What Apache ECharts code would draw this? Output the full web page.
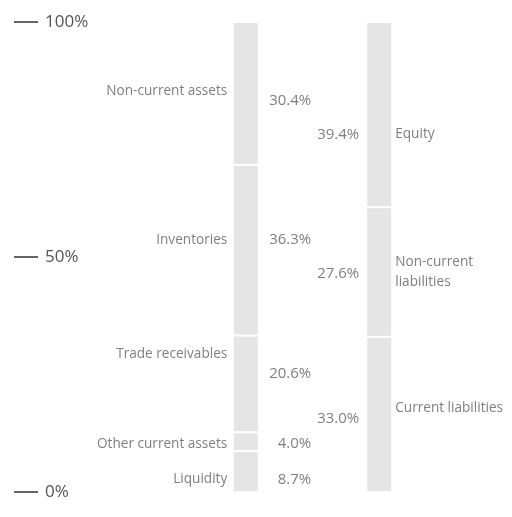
<!DOCTYPE html>
<html><head><meta charset="utf-8">
<script src="https://cdn.jsdelivr.net/npm/echarts@6/dist/echarts.min.js"></script>
<style>html,body{margin:0;padding:0;background:#fff}#c{width:512px;height:517px}</style>
</head><body><div id="c"></div>
<script>
const sides = ['Assets', 'Liabilities'];
const assetNames = ['Liquidity', 'Other current assets', 'Trade receivables', 'Inventories', 'Non-current assets'];
const assetValues = [8.7, 4.0, 20.6, 36.3, 30.4];
const liabNames = ['Current liabilities', 'Non-current\nliabilities', 'Equity'];
const liabValues = [33.0, 27.6, 39.4];
const axisMin = 0, axisMax = 100, axisStep = 50;

// label vertical nudges in px (style only)
const assetNameDy = [8, 2, -30, -10, -2];
const assetValueDy = [8, 2, -10, -10, 7];
const liabNameDy = [-6, 0, 20];
const liabValueDy = [4, 2, 20];

const FONT = '"Open Sans", sans-serif';
const BAR = '#e5e5e5';
const TXT = '#7f7f7f';

function fmtPct(v) { return v.toFixed(1) + '%'; }

const series = [];
function addSide(names, values, nameDy, valueDy, sideIdx) {
  names.forEach((n, i) => {
    const v = values[i];
    const make = (dy) => {
      const d = ['-', '-'];
      d[sideIdx] = { value: v, label: { offset: [0, dy] } };
      return d;
    };
    series.push({
      type: 'bar', name: n, stack: 'main', barWidth: 26, barGap: '-100%', silent: true,
      itemStyle: { color: BAR, borderColor: '#fff', borderWidth: 1 },
      label: {
        show: true,
        position: sideIdx === 0 ? 'left' : 'right',
        distance: sideIdx === 0 ? 5.5 : 3,
        formatter: () => n,
        color: TXT, fontFamily: FONT, fontSize: 13.6, lineHeight: 20,
        align: sideIdx === 0 ? 'right' : 'left'
      },
      data: make(nameDy[i])
    });
    series.push({
      type: 'bar', name: n + ' value', stack: 'val', barWidth: 26, barGap: '-100%', silent: true,
      itemStyle: { color: 'rgba(0,0,0,0)' },
      label: {
        show: true,
        position: sideIdx === 0 ? 'right' : 'left',
        distance: sideIdx === 0 ? 52.5 : 7,
        formatter: (p) => fmtPct(p.value),
        color: TXT, fontFamily: FONT, fontSize: 15,
        align: 'right'
      },
      data: make(valueDy[i])
    });
  });
}
addSide(assetNames, assetValues, assetNameDy, assetValueDy, 0);
addSide(liabNames, liabValues, liabNameDy, liabValueDy, 1);

const chart = echarts.init(document.getElementById('c'), null, { renderer: 'canvas' });
chart.setOption({
  animation: false,
  grid: [
    { left: 179, width: 267, top: 22, height: 470 },
    { left: 14, width: 24, top: 22, height: 470 }
  ],
  xAxis: [
    { type: 'category', data: sides, gridIndex: 0, show: false },
    { type: 'value', gridIndex: 1, show: false }
  ],
  yAxis: [
    { type: 'value', gridIndex: 0, min: axisMin, max: axisMax, show: false },
    {
      type: 'value', gridIndex: 1, min: axisMin, max: axisMax, interval: axisStep,
      position: 'right',
      axisLine: { show: false }, axisTick: { show: false },
      splitLine: { show: true, lineStyle: { color: '#555', width: 1.8 } },
      axisLabel: { margin: 7, align: 'left', color: '#555', fontFamily: FONT, fontSize: 17, formatter: '{value}%' }
    }
  ],
  series: series
});
</script>
</body></html>
